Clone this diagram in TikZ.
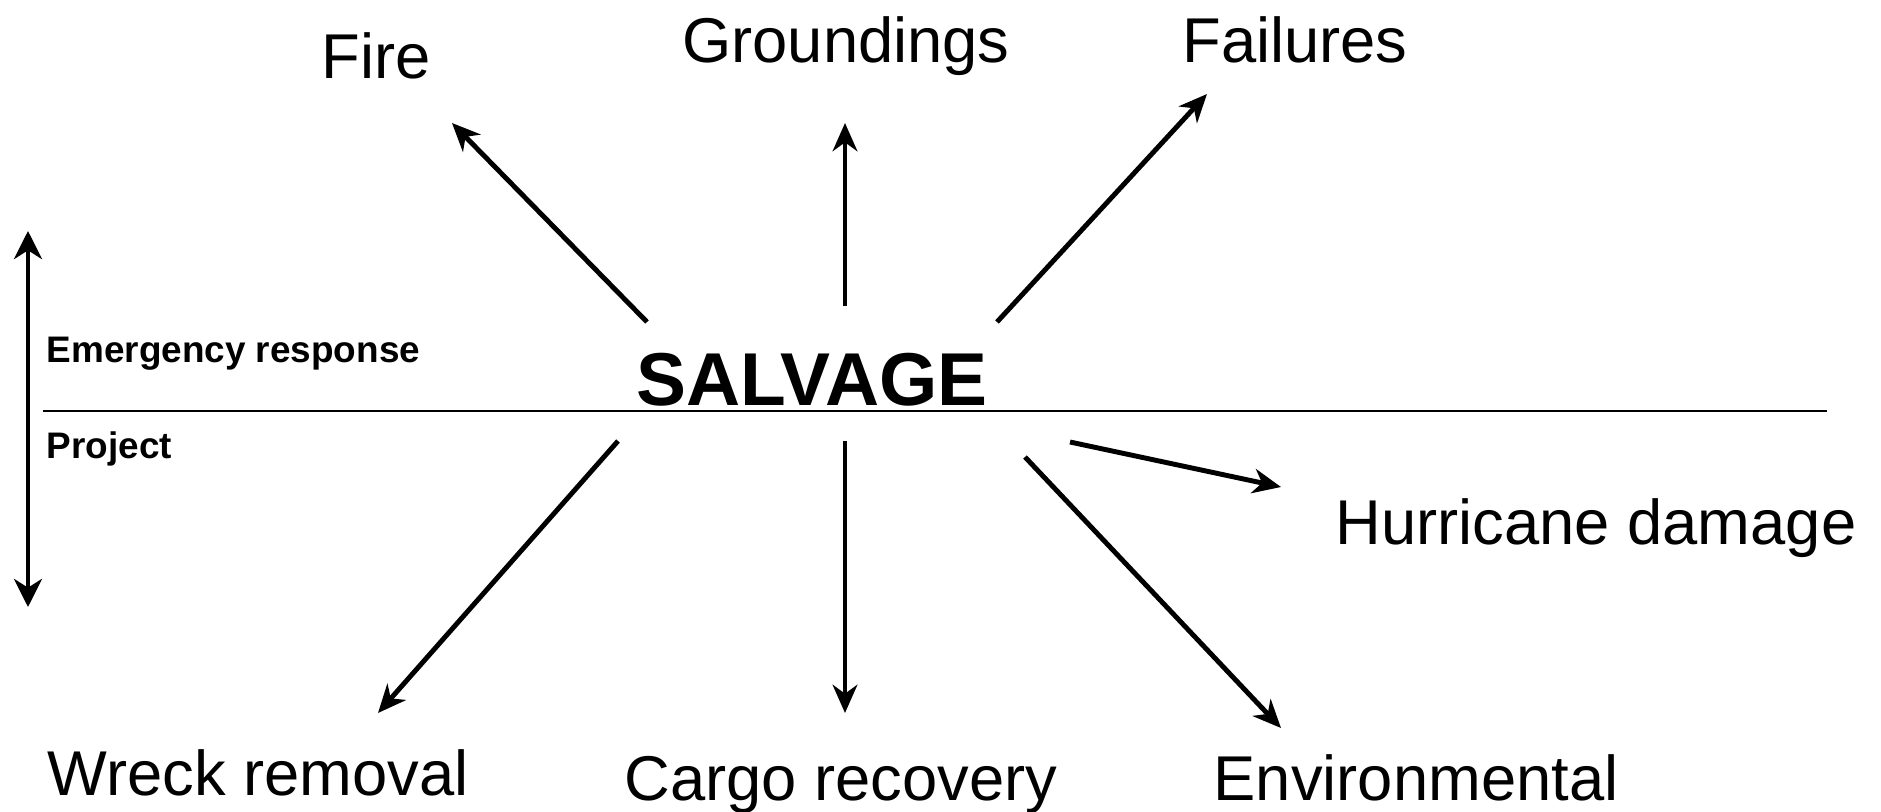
\documentclass[tikz,border=0pt]{standalone}
\usepackage{fontspec}
\setmainfont{Liberation Sans}
\usetikzlibrary{arrows.meta, positioning}
\tikzset{
    base/.style={inner sep=0pt, anchor=base},
    topic/.style={base, font=\fontsize{18}{21}\selectfont},
    title/.style={base, font=\fontsize{21.3}{25}\selectfont\bfseries},
    side/.style={base, anchor=base west, font=\fontsize{10.5}{12}\selectfont\bfseries},
    arrow/.style={line width=1.4pt, -{Stealth[length=8pt, width=7pt, inset=2.5pt]}, color=black},
    twoway/.style={line width=1.2pt, {Stealth[length=8pt, width=8pt, inset=2.5pt]}-{Stealth[length=8pt, width=8pt, inset=2.5pt]}, color=black},
    divider/.style={line width=0.85pt, color=black}
}
\begin{document}
\begin{tikzpicture}[x=0.01cm, y=-0.01cm]
        \useasboundingbox (0,0) rectangle (1881,812);

        % Centre and split
        \node (salvage) [title] at (812,405) {SALVAGE};
        \coordinate (lineL) at (43,411);
        \coordinate (lineR) at (1827,411);
        \draw [divider] (lineL) -- (lineR);
        \node (emerg) [side] at (46,362) {Emergency response};
        \node (proj) [side] at (46,458) {Project};
        \coordinate (scaleT) at (28,231);
        \coordinate (scaleB) at (28,607);
        \draw [twoway] (scaleB) -- (scaleT);

        % Emergency response
        \node (fire) [topic] at (376,78) {Fire};
        \node (ground) [topic] at (846,62) {Groundings};
        \node (fail) [topic] at (1295,62) {Failures};

        % Project
        \node (hurr) [topic] at (1596,544) {Hurricane damage};
        \node (wreck) [topic] at (258,795) {Wreck removal};
        \node (cargo) [topic] at (841,800) {Cargo recovery};
        \node (env) [topic] at (1416,800) {Environmental};

        % Arrow ends
        \coordinate (fireS) at (647,322);   \coordinate (fireE) at (452,123);
        \coordinate (groundS) at (845,306); \coordinate (groundE) at (845,123);
        \coordinate (failS) at (997,322);   \coordinate (failE) at (1207,94);
        \coordinate (wreckS) at (618,441);  \coordinate (wreckE) at (378,713);
        \coordinate (cargoS) at (845,441);  \coordinate (cargoE) at (845,713);
        \coordinate (envS) at (1025,457);   \coordinate (envE) at (1281,728);
        \coordinate (hurrS) at (1070,442);  \coordinate (hurrE) at (1281,487);

        \draw [arrow] (fireS) -- (fireE);
        \draw [arrow] (groundS) -- (groundE);
        \draw [arrow] (failS) -- (failE);
        \draw [arrow] (wreckS) -- (wreckE);
        \draw [arrow] (cargoS) -- (cargoE);
        \draw [arrow] (envS) -- (envE);
        \draw [arrow] (hurrS) -- (hurrE);
    \end{tikzpicture}
\end{document}
